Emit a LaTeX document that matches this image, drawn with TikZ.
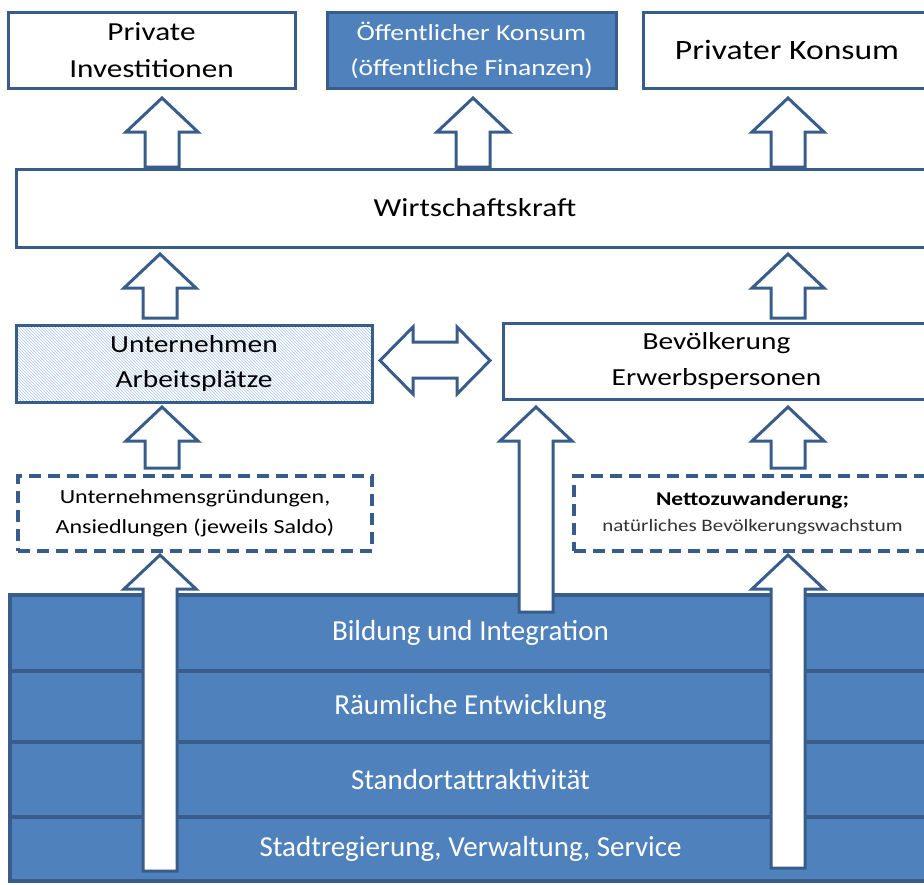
\documentclass[tikz,border=0pt]{standalone}
\usepackage{fontspec}
\setmainfont{Carlito}
\newfontfamily\widefont{Carlito}[FakeStretch=1.2]
\usetikzlibrary{patterns}
\definecolor{rand}{HTML}{385D8A}
\definecolor{blau}{HTML}{4F81BD}
\definecolor{schraff}{HTML}{A8C4E8}
\tikzset{kasten/.style={draw=rand,line width=3pt,rectangle,inner sep=0pt,align=center,fill=white},
  strich/.style={kasten,dash pattern=on 12pt off 7pt,line width=3.5pt},
  ebene/.style={draw=rand,line width=3.5pt,fill=blau,text=white,inner sep=0pt,minimum width=921pt,
    font=\fontsize{29}{34}\selectfont},
  pfeil/.style={draw=rand,line width=3pt,fill=white,line join=miter}}
\newcommand{\hochpfeil}[3]{\draw[pfeil] (#1-17,#2) -- (#1-17,#3+34) -- (#1-36,#3+34) -- (#1,#3)
  -- (#1+36,#3+34) -- (#1+17,#3+34) -- (#1+17,#2) -- cycle;}

\begin{document}
\begin{tikzpicture}[x=1pt,y=-1pt]
\clip (0,0) rectangle (924,884);
\node[ebene,minimum height=76pt] (bildung) at (470.5,633) {Bildung und Integration};
\node[ebene,minimum height=71pt] (raum) at (470.5,706.5) {Räumliche Entwicklung};
\node[ebene,minimum height=75pt] (standort) at (470.5,779.5) {Standortattraktivität};
\node[ebene,minimum height=64pt] (stadt) at (470.5,849) {Stadtregierung, Verwaltung, Service};
\node[kasten,minimum width=287pt,minimum height=76pt,font=\widefont\fontsize{26}{37}\selectfont] (invest) at (151.5,50) {Private\\Investitionen};
\node[kasten,fill=blau,text=white,minimum width=289pt,minimum height=76pt,font=\widefont\fontsize{23}{35}\selectfont] (oeff) at (471.5,50) {Öffentlicher Konsum\\(öffentliche Finanzen)};
\node[kasten,minimum width=288pt,minimum height=76pt,font=\widefont\fontsize{28}{34}\selectfont] (konsum) at (787,50) {Privater Konsum};
\node[kasten,minimum width=918pt,minimum height=78pt,font=\widefont\fontsize{26}{34}\selectfont] (wk) at (475,208) {Wirtschaftskraft};
\node[kasten,pattern=north west lines,pattern color=schraff,minimum width=356pt,minimum height=77pt,font=\widefont\fontsize{24.5}{35}\selectfont] (untern) at (194,363.5) {Unternehmen\\Arbeitsplätze};
\node[kasten,minimum width=427pt,minimum height=76pt,font=\widefont\fontsize{24.5}{36}\selectfont] (bevoelk) at (716.5,361) {Bevölkerung\\Erwerbspersonen};
\node[strich,minimum width=354pt,minimum height=75pt,font=\widefont\fontsize{20}{30}\selectfont] (gruend) at (195,513.5) {Unternehmensgründungen,\\Ansiedlungen (jeweils Saldo)};
\node[strich,minimum width=357pt,minimum height=75pt,font=\widefont\fontsize{19.5}{26}\selectfont] (zuw) at (752.5,513.5) {\bfseries Nettozuwanderung;\\{\fontsize{17.5}{26}\selectfont\color{black!80}natürliches Bevölkerungswachstum}};
\hochpfeil{162}{167}{98}\hochpfeil{473}{167}{98}\hochpfeil{788}{167}{98}
\hochpfeil{160}{318}{254}\hochpfeil{788}{318}{254}
\hochpfeil{162}{468}{407}\hochpfeil{788}{468}{407}
\hochpfeil{160}{871}{555}\hochpfeil{788}{868}{555}\hochpfeil{536}{612}{407}
\draw[pfeil] (380,360.5) -- (413,327) -- (413,342) -- (457,342) -- (457,327) -- (490,360.5)
  -- (457,394) -- (457,378) -- (413,378) -- (413,394) -- cycle;
\end{tikzpicture}
\end{document}
